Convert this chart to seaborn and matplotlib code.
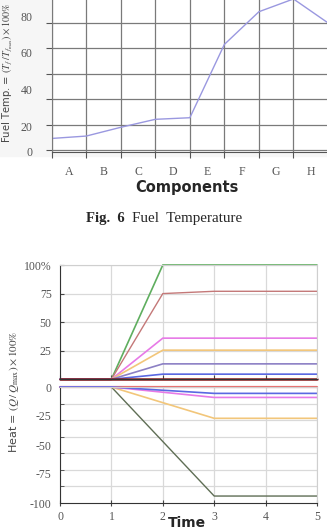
import numpy as np
import pandas as pd
import seaborn as sns
import matplotlib.pyplot as plt
from matplotlib.patches import Rectangle

# Fig 6 - fuel temperature per component (values sit on the grid lines)
components = ['A', 'B', 'C', 'D', 'E', 'F', 'G', 'H']
fuel_temp = [7.5, 9, 14.5, 19.5, 20.5, 66.5, 87, 95, 80]
fuel_labels = ['0', '20', '40', '60', '80']

# heat vs time, positive part
time = [0, 1, 2, 3, 4, 5]
up_green = [0, 0, 100, 100, 100, 100]
up_rose = [0, 0, 75, 77, 77, 77]
up_magenta = [0, 0, 36, 36, 36, 36]
up_orange = [0, 0, 25.5, 25.5, 25.5, 25.5]
up_purple = [0, 0, 13.5, 13.5, 13.5, 13.5]
up_blue = [0, 0, 4.5, 4.5, 4.5, 4.5]
up_darkred = [0, 0, 0, 0, 0, 0]
# negative part
dn_red = [0, 0, 0, 0, 0, 0]
dn_green = [0, 0, -47, -94, -94, -94]
dn_orange = [0, 0, -13.5, -27, -27, -27]
dn_magenta = [0, 0, -4.5, -9, -9, -9]
dn_blue = [0, 0, -2.8, -5.5, -5.5, -5.5]

sns.set_style('white')
plt.rcParams['font.family'] = ['Liberation Serif', 'DejaVu Serif']
plt.rcParams['mathtext.fontset'] = 'stix'

W, H = 327, 531
fig = plt.figure(figsize=(W / 100, H / 100), dpi=100)


def box(l, t, r, b):
    return [l / W, 1 - b / H, (r - l) / W, (b - t) / H]


tick_col = '#555555'
narrow = ['Liberation Sans Narrow', 'DejaVu Sans']

# light grey frame behind top chart
fig.patches.append(Rectangle((0, 1 - 156 / H), 1, 156 / H, transform=fig.transFigure,
                             color='#f6f6f6', zorder=-5))

# ---- top chart ----
ax = fig.add_axes(box(51.7, -9, 328, 152))
ax.set_facecolor('white')
sns.lineplot(x=np.arange(len(fuel_temp)), y=fuel_temp, ax=ax, color='#9a98e0', lw=1.0)
ax.set_xlim(0, 8)
ax.set_ylim(0, 100)
ax.set_xticks(np.arange(9), minor=True)
ax.set_xticks(np.arange(8) + 0.5, components)
ax.set_yticks(np.arange(0, 100, 16), minor=True)
ax.set_yticks([-1, 15, 38, 61.5, 84], fuel_labels)
ax.grid(which='minor', color='#7a7a7a', lw=0.9)
ax.tick_params(which='major', length=0, labelsize=8.5, labelcolor=tick_col)
ax.tick_params(axis='y', which='major', pad=14)
ax.tick_params(axis='x', which='major', pad=10)
ax.tick_params(which='minor', left=True, bottom=True, length=4, width=0.8, color='#555555',
               direction='out')
for s in ['top', 'right']:
    ax.spines[s].set_visible(False)
ax.spines['left'].set_color('#7a7a7a')
ax.spines['bottom'].set_color('#555555')
ax.set_xlabel('')
fig.text(187 / W, 1 - 188 / H, 'Components', ha='center', va='center', fontsize=10.5,
         fontweight='bold', family=narrow)
fig.text(8 / W, 1 - 73 / H, r'Fuel Temp. = $(T_f\,/\,T_{f_{\rm max}})\times100\%$', rotation=90,
         ha='center', va='center', fontsize=7.2, color='#444444', family=narrow)

# caption
fig.text(86 / W, 1 - 218 / H, 'Fig.  6', ha='left', va='center', fontsize=10.5, fontweight='bold')
fig.text(132 / W, 1 - 218 / H, 'Fuel  Temperature', ha='left', va='center', fontsize=10.8)

# ---- bottom chart ----
grid_col = '#d9d9d9'
a1 = fig.add_axes(box(60, 265, 317, 379.3))
a2 = fig.add_axes(box(60, 387, 317, 503))

up = [(up_green, '#5fae5f', 1.2), (up_rose, '#c47878', 1.0), (up_magenta, '#e77ae7', 1.2),
      (up_orange, '#f2c67a', 1.2), (up_purple, '#8c80c4', 1.2), (up_blue, '#5a68e2', 1.2),
      (up_darkred, '#8b1c1c', 1.8)]
for vals, c, w in up:
    sns.lineplot(x=time, y=vals, ax=a1, color=c, lw=w, clip_on=False)

dn = [(dn_red, '#e86e6e', 1.6), (dn_green, '#5f6e55', 1.0), (dn_orange, '#f2c67a', 1.2),
      (dn_magenta, '#e77ae7', 1.2), (dn_blue, '#5a68e2', 1.2)]
for vals, c, w in dn:
    sns.lineplot(x=time, y=vals, ax=a2, color=c, lw=w, clip_on=False)

a1.set_ylim(0, 100)
a1.set_yticks([25, 50, 75, 100], ['25', '50', '75', '100%'])
a2.set_ylim(-100, 0)
a2.set_yticks([0, -25, -50, -75, -100], ['0', '-25', '-50', '-75', '-100'])
a2.set_yticks(np.linspace(-100, 0, 8), minor=True)
for a in (a1, a2):
    a.set_xlim(0, 5)
    a.set_xticks(time)
    a.grid(axis='x', color=grid_col, lw=0.9)
    a.tick_params(labelsize=8.5, labelcolor=tick_col, direction='in', length=3, color='#444444',
                  left=True, bottom=True)
    a.tick_params(axis='y', pad=6)
    a.spines['left'].set_color('#333333')
    a.spines['bottom'].set_color('#333333')
    a.spines['top'].set_color('#cfcfcf')
    a.spines['right'].set_color('#cfcfcf')
    a.set_ylabel('')
a1.grid(axis='y', color=grid_col, lw=0.9)
a2.grid(axis='y', which='minor', color=grid_col, lw=0.9)
a2.tick_params(axis='y', which='minor', left=True, direction='in', length=3, color='#444444')
a2.tick_params(axis='y', which='major', length=0)
a1.tick_params(axis='x', labelbottom=False)
a2.tick_params(axis='x', direction='inout', length=5, pad=3)

fig.text(187 / W, 1 - 523 / H, 'Time', ha='center', va='center', fontsize=10,
         fontweight='bold', family=narrow)
fig.text(14 / W, 1 - 392 / H, r'Heat = $(Q\,/\,Q_{\rm max})\times100\%$', rotation=90,
         ha='center', va='center', fontsize=8, color='#444444', family=narrow)

fig.savefig('out.png', dpi=100)
